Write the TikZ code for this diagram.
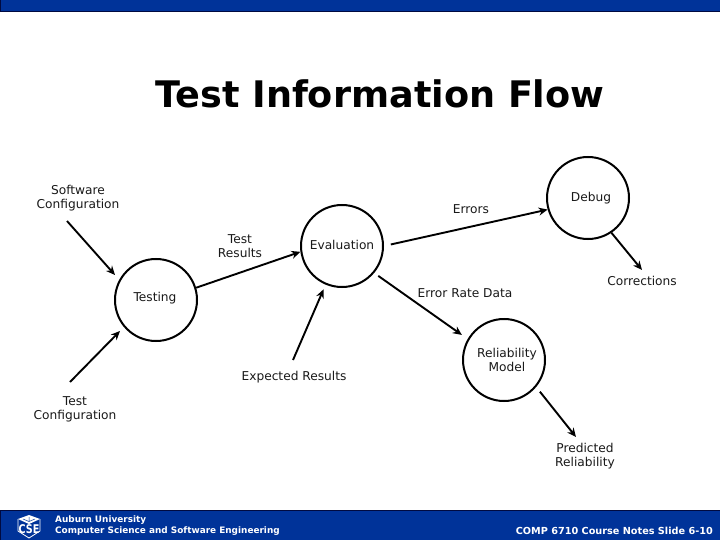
\documentclass[tikz,border=0pt]{standalone}
\usepackage{fontspec}
\setmainfont{DejaVu Sans}
\usetikzlibrary{arrows.meta}
\definecolor{barblue}{HTML}{003399}
\definecolor{bardark}{HTML}{000A40}
\tikzset{
  x=1pt,y=-1pt,
  proc/.style={circle,draw=black,line width=2pt,minimum size=82pt,inner sep=0pt,fill=white,align=center},
  lab/.style={font=\fontsize{12.2}{14}\selectfont,align=center,text=black!90,inner sep=0pt},
  flow/.style={line width=1.9pt,-{Stealth[length=9pt,width=8pt]}},
  bar/.style={fill=barblue,draw=bardark,line width=1pt},
  foot/.style={font=\bfseries\fontsize{8.9}{11.2}\selectfont,text=white,align=left,inner sep=0pt}
}
\begin{document}
\begin{tikzpicture}
\useasboundingbox (0,0) rectangle (720,540);
\fill[white] (0,0) rectangle (720,540);
\node[bar,minimum width=720pt,minimum height=12pt,inner sep=0pt] (topbar) at (360,6) {};
\node[bar,minimum width=720pt,minimum height=30pt,inner sep=0pt] (footbar) at (360,525) {};
\node[font=\bfseries\fontsize{36.6}{40}\selectfont,inner sep=0pt] (title) at (380,93.5) {Test Information Flow};
% processes
\node[proc] (testing) at (156,300) {};
\node[proc] (eval) at (342,246) {};
\node[proc] (debug) at (588,198) {};
\node[proc] (rel) at (504,360) {};
\node[lab] (ltesting) at (155,298.5) {Testing};
\node[lab] (leval) at (342,245) {Evaluation};
\node[lab] (ldebug) at (591,198) {Debug};
\node[lab] (lrel) at (507,360) {Reliability\\Model};
% labels
\node[lab] (swconf) at (78,198.5) {Software\\Configuration};
\node[lab] (testres) at (240,246) {Test\\Results};
\node[lab] (errors) at (471,209) {Errors};
\node[lab] (corr) at (642,281) {Corrections};
\node[lab] (erd) at (465,293) {Error Rate Data};
\node[lab] (expres) at (294,377.5) {Expected Results};
\node[lab] (testconf) at (75,409) {Test\\Configuration};
\node[lab] (predrel) at (585,456.5) {Predicted\\Reliability};
% free ends
\coordinate (swend) at (67,221);
\coordinate (tcend) at (70,382);
\coordinate (exend) at (293,360);
\coordinate (corend) at (642,270);
\coordinate (prend) at (576,437);
% connectors
\draw[flow] (swend) -- (115,275);
\draw[flow] (tcend) -- (120,331);
\draw[flow] (testing.17) -- (eval.188);
\draw[flow,shorten >=5pt] (exend) -- (eval.247);
\draw[flow,shorten <=7pt] (eval.0) -- (debug.196);
\draw[flow,shorten <=5pt,shorten >=7pt] (eval.-40) -- (rel.150);
\draw[flow] (debug.-56) -- (corend);
\draw[flow,shorten <=6pt] (rel.-40) -- (prend);
% footer
\node[foot,anchor=north west] (uni) at (55,515.5) {Auburn University\\Computer Science and Software Engineering};
\node[foot,anchor=east,font=\bfseries\fontsize{9.7}{11}\selectfont] (slide) at (713,531) {COMP 6710 Course Notes Slide 6-10};
% logo
\fill[white] (18,519) -- (29,515) -- (40,519) -- (29,524) -- cycle;
\draw[barblue,line width=.5pt] (23,519) -- (29,521.5) -- (35,519) (29,517) -- (29,521.5);
\draw[white,line width=.8pt] (18,519) -- (18,531) -- (29,538) -- (40,531) -- (40,519);
\node[font=\bfseries\fontsize{12}{12}\selectfont,text=white,inner sep=0pt,xscale=.8] (logo) at (29,529) {CSE};
\end{tikzpicture}
\end{document}
